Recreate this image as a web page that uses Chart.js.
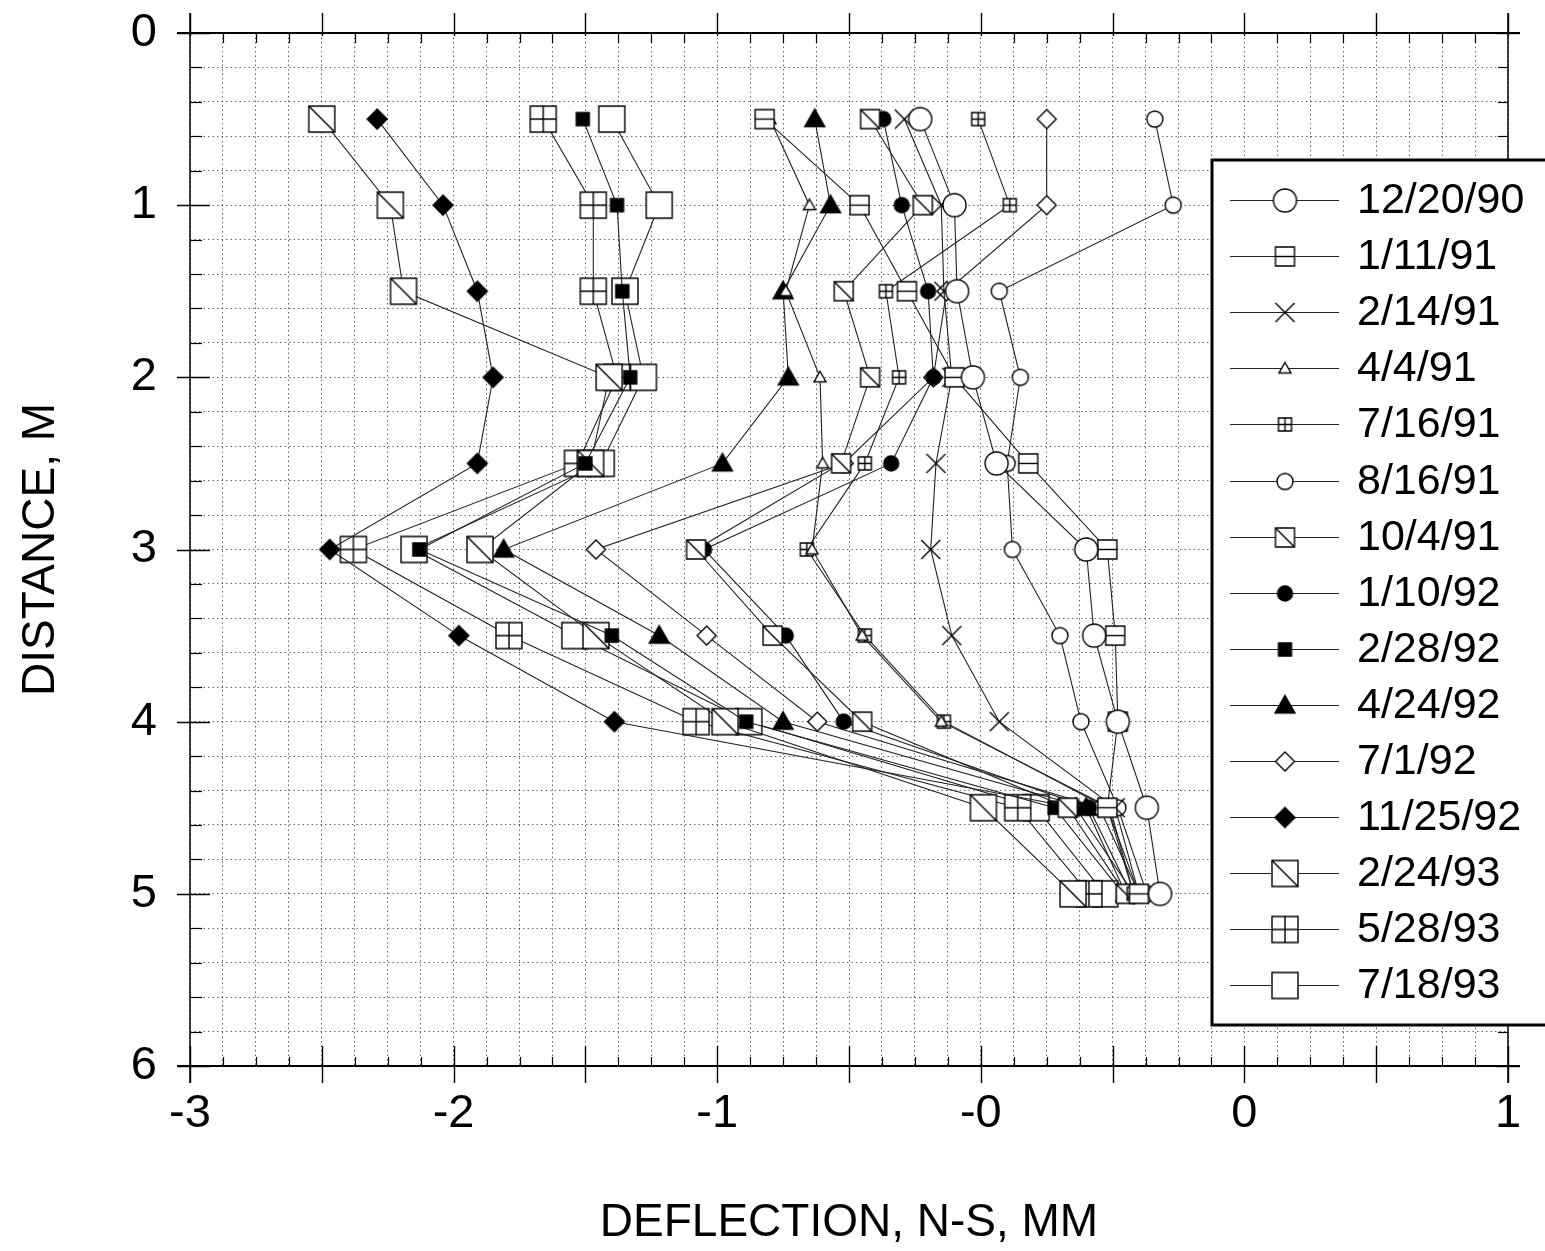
<!DOCTYPE html>
<html>
<head>
<meta charset="utf-8">
<title>Deflection N-S</title>
<script src="https://cdn.jsdelivr.net/npm/chart.js@4/dist/chart.umd.min.js"></script>
<style>
  html, body { margin: 0; padding: 0; background: #fff; }
  #wrap { width: 1545px; height: 1251px; }
</style>
</head>
<body>
<div id="wrap"><canvas id="deflChart" width="1545" height="1251"></canvas></div>
<script>
// depth of each reading, m
const depths = [0.5, 1.0, 1.5, 2.0, 2.5, 3.0, 3.5, 4.0, 4.5, 5.0];
const xTickLabels = ['-3', '-2', '-1', '-0', '0', '1'];
const yTickLabels = ['0', '1', '2', '3', '4', '5', '6'];
const surveyDates = ['12/20/90', '1/11/91', '2/14/91', '4/4/91', '7/16/91', '8/16/91', '10/4/91',
  '1/10/92', '2/28/92', '4/24/92', '7/1/92', '11/25/92', '2/24/93', '5/28/93', '7/18/93'];

// N-S deflection per survey, top to bottom
const s122090 = [-0.23, -0.10, -0.09, -0.03, 0.06, 0.40, 0.43, 0.52, 0.63, 0.68];
const s011191 = [-0.82, -0.46, -0.28, -0.10, 0.18, 0.48, 0.51, 0.52, 0.48, 0.60];
const s021491 = [-0.29, -0.15, -0.14, -0.11, -0.17, -0.19, -0.11, 0.07, 0.51, 0.60];
const s040491 = [-0.80, -0.65, -0.74, -0.61, -0.60, -0.64, -0.45, -0.15, 0.49, 0.58];
const s071691 = [-0.01, 0.11, -0.36, -0.31, -0.44, -0.66, -0.44, -0.14, 0.48, 0.58];
const s081691 = [0.66, 0.73, 0.07, 0.15, 0.10, 0.12, 0.30, 0.38, 0.52, 0.63];
const s100491 = [-0.42, -0.22, -0.52, -0.42, -0.53, -1.08, -0.79, -0.45, 0.33, 0.55];
const s011092 = [-0.37, -0.30, -0.20, -0.18, -0.34, -1.05, -0.74, -0.52, 0.41, 0.57];
const s022892 = [-1.51, -1.38, -1.36, -1.33, -1.50, -2.13, -1.40, -0.89, 0.28, 0.54];
const s042492 = [-0.63, -0.57, -0.75, -0.73, -0.98, -1.81, -1.22, -0.75, 0.40, 0.55];
const s070192 = [0.25, 0.25, -0.13, -0.18, -0.52, -1.46, -1.04, -0.62, 0.45, 0.60];
const s112592 = [-2.29, -2.04, -1.91, -1.85, -1.91, -2.47, -1.98, -1.39, 0.36, 0.58];
const s022493 = [-2.50, -2.24, -2.19, -1.41, -1.48, -1.90, -1.46, -0.97, 0.01, 0.35];
const s052893 = [-1.66, -1.47, -1.47, -1.38, -1.53, -2.38, -1.79, -1.08, 0.14, 0.41];
const s071893 = [-1.40, -1.22, -1.35, -1.28, -1.44, -2.15, -1.54, -0.88, 0.21, 0.47];

const FONT = "'Liberation Sans', Arial, Helvetica, sans-serif";
Chart.defaults.font.family = FONT;
Chart.defaults.color = '#000';

// small canvases used as point symbols
function marker(shape, size, opt = {}) {
  const pad = 3;
  const c = document.createElement('canvas');
  c.width = c.height = size + pad * 2;
  const g = c.getContext('2d');
  const m = c.width / 2, h = size / 2;
  g.lineWidth = 1.4;
  g.strokeStyle = '#000';
  g.fillStyle = opt.filled ? '#000' : '#fff';
  g.beginPath();
  if (shape === 'x') {
    g.moveTo(m - h, m - h); g.lineTo(m + h, m + h);
    g.moveTo(m + h, m - h); g.lineTo(m - h, m + h);
    g.stroke();
    return c;
  }
  if (shape === 'circle') g.arc(m, m, h, 0, Math.PI * 2);
  if (shape === 'square') g.rect(m - h, m - h, size, size);
  if (shape === 'triangle') {
    g.moveTo(m, m - h); g.lineTo(m + h, m + h * 0.75); g.lineTo(m - h, m + h * 0.75); g.closePath();
  }
  if (shape === 'diamond') {
    g.moveTo(m, m - h); g.lineTo(m + h, m); g.lineTo(m, m + h); g.lineTo(m - h, m); g.closePath();
  }
  g.fill();
  g.stroke();
  g.beginPath();
  if (opt.mark === 'diag') { g.moveTo(m - h, m - h); g.lineTo(m + h, m + h); }
  if (opt.mark === 'cross') { g.moveTo(m - h, m); g.lineTo(m + h, m); g.moveTo(m, m - h); g.lineTo(m, m + h); }
  if (opt.mark === 'hline') { g.moveTo(m - h, m); g.lineTo(m + h, m); }
  g.stroke();
  return c;
}

const series = [
  { values: s122090, symbol: marker('circle', 23) },
  { values: s011191, symbol: marker('square', 19, { mark: 'hline' }) },
  { values: s021491, symbol: marker('x', 19) },
  { values: s040491, symbol: marker('triangle', 12) },
  { values: s071691, symbol: marker('square', 13, { mark: 'cross' }) },
  { values: s081691, symbol: marker('circle', 16) },
  { values: s100491, symbol: marker('square', 19, { mark: 'diag' }) },
  { values: s011092, symbol: marker('circle', 15, { filled: true }) },
  { values: s022892, symbol: marker('square', 13, { filled: true }) },
  { values: s042492, symbol: marker('triangle', 20, { filled: true }) },
  { values: s070192, symbol: marker('diamond', 19) },
  { values: s112592, symbol: marker('diamond', 20, { filled: true }) },
  { values: s022493, symbol: marker('square', 26, { mark: 'diag' }) },
  { values: s052893, symbol: marker('square', 26, { mark: 'cross' }) },
  { values: s071893, symbol: marker('square', 26) },
];

const datasets = series.map((s, i) => ({
  label: surveyDates[i],
  data: depths.map((d, k) => ({ x: s.values[k], y: d })),
  showLine: true,
  borderColor: '#222',
  borderWidth: 1.1,
  pointStyle: s.symbol,
  pointRadius: 10,
  tension: 0,
}));

const isWhole = v => Math.abs(v - Math.round(v)) < 1e-6;

// outer frame with major/minor tick marks on all four sides
const frameTicks = {
  id: 'frameTicks',
  afterDatasetsDraw(chart) {
    const { ctx, chartArea: a, scales: { x, y } } = chart;
    const seg = (x1, y1, x2, y2, w) => {
      ctx.lineWidth = w;
      ctx.beginPath(); ctx.moveTo(x1, y1); ctx.lineTo(x2, y2); ctx.stroke();
    };
    ctx.save();
    ctx.strokeStyle = '#000';
    for (let k = 0; k <= 40; k++) {
      const px = Math.round(x.getPixelForValue(-3 + k * 0.125)) + 0.5;
      if (k % 4 === 0) {
        seg(px, a.bottom - 20, px, a.bottom + 17, 1.4);
        seg(px, a.top - 20, px, a.top + 3, 1.4);
      } else {
        seg(px, a.bottom - 9, px, a.bottom, 1.2);
        seg(px, a.top, px, a.top + 10, 1.2);
      }
    }
    for (let k = 0; k <= 30; k++) {
      const py = Math.round(y.getPixelForValue(k * 0.2)) + 0.5;
      if (k % 5 === 0) {
        seg(a.left - 13, py, a.left + 20, py, 1.4);
        seg(a.right - 12, py, a.right + 12, py, 1.4);
      } else {
        seg(a.left, py, a.left + 12, py, 1.2);
        seg(a.right - 10, py, a.right, py, 1.2);
      }
    }
    seg(a.left - 13, a.top, a.right + 12, a.top, 2);
    seg(a.left - 13, a.bottom, a.right + 12, a.bottom, 2);
    seg(a.left, a.top - 20, a.left, a.bottom + 17, 1.5);
    seg(a.right, a.top - 20, a.right, a.bottom + 17, 1.5);
    ctx.restore();
  }
};

// boxed legend sitting over the right side of the plot
const boxLegend = {
  id: 'boxLegend',
  afterDraw(chart) {
    const ctx = chart.ctx;
    ctx.save();
    ctx.fillStyle = '#fff';
    ctx.fillRect(1212, 160, 345, 865);
    ctx.lineWidth = 3;
    ctx.strokeStyle = '#000';
    ctx.strokeRect(1212, 160, 345, 865);
    ctx.font = '43px ' + FONT;
    ctx.textBaseline = 'middle';
    ctx.fillStyle = '#000';
    chart.data.datasets.forEach((ds, i) => {
      const yy = Math.round(200 + i * 56.1) + 0.5;
      ctx.lineWidth = 1.1;
      ctx.strokeStyle = '#222';
      ctx.beginPath(); ctx.moveTo(1230, yy); ctx.lineTo(1339, yy); ctx.stroke();
      const img = ds.pointStyle;
      ctx.drawImage(img, 1285 - img.width / 2, yy - img.height / 2);
      ctx.fillText(ds.label, 1357, yy + 1);
    });
    ctx.restore();
  }
};

new Chart(document.getElementById('deflChart'), {
  type: 'scatter',
  data: { datasets },
  plugins: [frameTicks, boxLegend],
  options: {
    responsive: false,
    animation: false,
    devicePixelRatio: 1,
    layout: { padding: { left: 0, right: 37, top: 33, bottom: 0 } },
    plugins: { legend: { display: false }, tooltip: { enabled: false } },
    scales: {
      x: {
        type: 'linear',
        min: -3,
        max: 2,
        afterFit: s => { s.height = 185; s.paddingLeft = 0; s.paddingRight = 0; },
        ticks: {
          stepSize: 0.125,
          autoSkip: false,
          maxRotation: 0,
          padding: 20,
          font: { size: 47 },
          color: '#000',
          callback: v => isWhole(v) ? xTickLabels[Math.round(v) + 3] : '',
        },
        grid: { color: 'rgba(0,0,0,0.6)', lineWidth: 1, drawTicks: false },
        border: { display: false, dash: [1.5, 3] },
        title: {
          display: true,
          text: 'DEFLECTION, N-S, MM',
          font: { size: 46 },
          color: '#000',
          padding: { top: 0, bottom: 0 },
        },
      },
      y: {
        type: 'linear',
        min: 0,
        max: 6,
        reverse: true,
        afterFit: s => { s.width = 190; s.paddingTop = 0; s.paddingBottom = 0; },
        ticks: {
          stepSize: 0.2,
          autoSkip: false,
          padding: 33,
          font: { size: 47 },
          color: '#000',
          callback: v => isWhole(v) ? yTickLabels[Math.round(v)] : '',
        },
        grid: { color: 'rgba(0,0,0,0.6)', lineWidth: 1, drawTicks: false },
        border: { display: false, dash: [1.5, 3] },
        title: {
          display: true,
          text: 'DISTANCE, M',
          font: { size: 46 },
          color: '#000',
          padding: { top: 14, bottom: 0 },
        },
      },
    },
  },
});
</script>
</body>
</html>
